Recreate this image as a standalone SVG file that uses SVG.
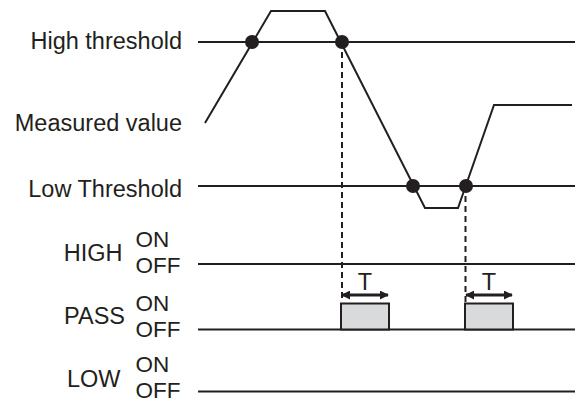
<svg xmlns="http://www.w3.org/2000/svg" width="577" height="401" viewBox="0 0 577 401">
<defs>
<style>
.t{font-family:"Liberation Sans",Arial,sans-serif;font-size:23.5px;fill:#231f20}
.s{font-family:"Liberation Sans",Arial,sans-serif;font-size:22.5px;fill:#231f20}
.ln{stroke:#231f20;stroke-width:2;fill:none}
.dash{stroke:#231f20;stroke-width:2;stroke-dasharray:6,4;fill:none}
.pulse{fill:#d9dadb;stroke:#231f20;stroke-width:2}
.dot{fill:#231f20}
.arr{stroke:#231f20;stroke-width:3;fill:none;marker-start:url(#ah);marker-end:url(#ah)}
</style>
<marker id="ah" viewBox="0 0 10 10" refX="9" refY="5" markerWidth="3" markerHeight="3" orient="auto-start-reverse" markerUnits="strokeWidth">
<path d="M0,0 L10,5 L0,10 z" fill="#231f20"/>
</marker>
</defs>
<rect width="577" height="401" fill="#ffffff"/>
<g id="labels">
<text class="t" x="182" y="48.5" text-anchor="end">High threshold</text>
<text class="t" x="182" y="130.5" text-anchor="end">Measured value</text>
<text class="t" x="182" y="197" text-anchor="end">Low Threshold</text>
<text class="t" x="122.5" y="261" text-anchor="end">HIGH</text>
<text class="s" x="135.5" y="247">ON</text>
<text class="s" x="135.5" y="272.5">OFF</text>
<text class="t" x="125" y="323.5" text-anchor="end">PASS</text>
<text class="s" x="135.5" y="311">ON</text>
<text class="s" x="135.5" y="337">OFF</text>
<text class="t" x="120.5" y="387" text-anchor="end">LOW</text>
<text class="s" x="135.5" y="372">ON</text>
<text class="s" x="135.5" y="397.5">OFF</text>
</g>
<g id="baselines">
<line class="ln" x1="198" y1="42" x2="575" y2="42"/>
<line class="ln" x1="198" y1="186" x2="575" y2="186"/>
<line class="ln" x1="198" y1="264" x2="575" y2="264"/>
<line class="ln" x1="198" y1="329.5" x2="575" y2="329.5"/>
<line class="ln" x1="198" y1="391.5" x2="575" y2="391.5"/>
</g>
<g id="measured">
<polyline class="ln" points="205,123 271,11 325,11 425,208 458,208 494,105 572,105"/>
</g>
<g id="pulses">
<rect class="pulse" x="341" y="303.5" width="48" height="26"/>
<rect class="pulse" x="465" y="303.5" width="48" height="26"/>
</g>
<g id="connectors">
<line class="dash" x1="342" y1="42" x2="342" y2="302"/>
<line class="dash" x1="465.5" y1="186" x2="465.5" y2="302"/>
<line class="arr" x1="342" y1="295" x2="388" y2="295"/>
<line class="arr" x1="466" y1="295" x2="512" y2="295"/>
</g>
<g id="dots">
<circle class="dot" cx="252" cy="42" r="7"/>
<circle class="dot" cx="342" cy="42" r="7"/>
<circle class="dot" cx="413" cy="186" r="7"/>
<circle class="dot" cx="466" cy="186" r="7"/>
</g>
<g id="tlabels">
<text class="t" x="365" y="290" text-anchor="middle">T</text>
<text class="t" x="489" y="290" text-anchor="middle">T</text>
</g>
</svg>
